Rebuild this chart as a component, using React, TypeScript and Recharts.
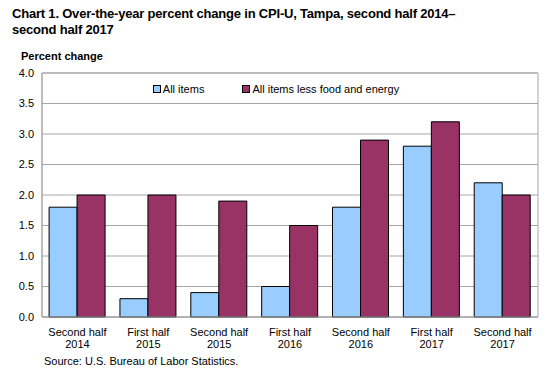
import React from 'react';
import { BarChart, Bar, XAxis, YAxis, CartesianGrid, ReferenceArea } from 'recharts';

const periods = [
  'Second half 2014',
  'First half 2015',
  'Second half 2015',
  'First half 2016',
  'Second half 2016',
  'First half 2017',
  'Second half 2017',
];
const allItems = [1.8, 0.3, 0.4, 0.5, 1.8, 2.8, 2.2];
const coreItems = [2.0, 2.0, 1.9, 1.5, 2.9, 3.2, 2.0];
const yTicks = [0, 0.5, 1, 1.5, 2, 2.5, 3, 3.5, 4];

const FONT = 'Arial, "Liberation Sans", sans-serif';
const BLUE = '#99ccff';
const PURPLE = '#993366';
const GRID = '#a6a6a6';

const data = periods.map((p, i) => ({ period: p, all: allItems[i], core: coreItems[i] }));

const PeriodTick = ({ x, y, payload }: any) => {
  const words = String(payload.value).split(' ');
  const year = words.pop();
  return (
    <text x={x} y={y} textAnchor="middle" fontFamily={FONT} fontSize={11} fill="#000">
      <tspan x={x} dy={11}>{words.join(' ')}</tspan>
      <tspan x={x} dy={12}>{year}</tspan>
    </text>
  );
};

const legendItems = [
  { label: 'All items', color: BLUE },
  { label: 'All items less food and energy', color: PURPLE },
];

export default function App() {
  return (
    <div style={{ position: 'absolute', left: 0, top: 0, width: 552, height: 375, background: '#fff', fontFamily: FONT }}>
      <div style={{ position: 'absolute', left: 12, top: 6, fontSize: 13, fontWeight: 'bold', lineHeight: '16px', color: '#000', letterSpacing: -0.2 }}>
        Chart 1. Over-the-year percent change in CPI-U, Tampa, second half 2014–
        <br />
        second half 2017
      </div>
      <div style={{ position: 'absolute', left: 21, top: 50, fontSize: 11, fontWeight: 'bold', color: '#000' }}>
        Percent change
      </div>
      <BarChart
        width={552}
        height={375}
        data={data}
        margin={{ top: 73, right: 14, bottom: 0, left: 0 }}
        barCategoryGap="10%"
        barGap={0}
      >
        <CartesianGrid vertical={false} stroke={GRID} />
        <ReferenceArea y1={0} y2={4} fill="none" stroke={GRID} ifOverflow="visible" />
        <XAxis
          dataKey="period"
          interval={0}
          tickLine={false}
          axisLine={{ stroke: GRID }}
          tick={<PeriodTick />}
          height={58}
        />
        <YAxis
          domain={[0, 4]}
          ticks={yTicks}
          width={42}
          tickLine={false}
          axisLine={{ stroke: GRID }}
          tickFormatter={(v: number) => v.toFixed(1)}
          tick={{ fontFamily: FONT, fontSize: 11, fill: '#000' }}
        />
        <Bar dataKey="all" name="All items" fill={BLUE} stroke="#000" strokeWidth={1} isAnimationActive={false} />
        <Bar dataKey="core" name="All items less food and energy" fill={PURPLE} stroke="#000" strokeWidth={1} isAnimationActive={false} />
      </BarChart>
      <div style={{ position: 'absolute', left: 0, top: 83, width: 552, display: 'flex', justifyContent: 'center', fontSize: 11, color: '#000' }}>
        {legendItems.map((it, i) => (
          <div key={i} style={{ display: 'flex', alignItems: 'center', marginRight: i === 0 ? 38 : 0 }}>
            <span style={{ width: 6, height: 6, border: '1px solid #000', background: it.color, marginRight: 2 }} />
            <span>{it.label}</span>
          </div>
        ))}
      </div>
      <div style={{ position: 'absolute', left: 44, top: 355, fontSize: 11, color: '#000' }}>
        Source: U.S. Bureau of Labor Statistics.
      </div>
    </div>
  );
}
